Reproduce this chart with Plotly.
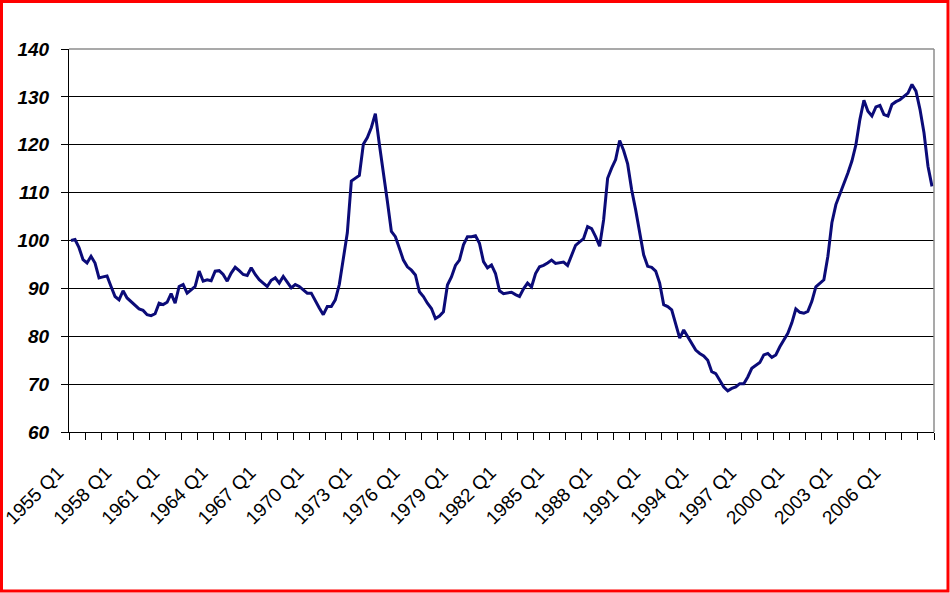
import plotly.graph_objects as go

# Quarterly categories 1955 Q1 .. 2008 Q4
years = list(range(1955, 2009))
quarters = [f"{y} Q{q}" for y in years for q in (1, 2, 3, 4)]

# Index values (one per quarter)
index_values = [
    100.0, 100.2, 98.5, 96.0, 95.3, 96.7, 95.3, 92.2, 92.4, 92.6,
    90.4, 88.3, 87.6, 89.5, 88.0, 87.3, 86.6, 85.7, 85.4, 84.5,
    84.3, 84.7, 86.9, 86.6, 87.1, 88.9, 86.9, 90.4, 90.8, 89.0,
    89.7, 90.4, 93.6, 91.5, 91.8, 91.6, 93.6, 93.7, 92.9, 91.5,
    93.2, 94.4, 93.7, 92.9, 92.7, 94.3, 92.9, 91.8, 91.1, 90.4,
    91.7, 92.2, 91.1, 92.5, 91.3, 90.1, 90.8, 90.4, 89.7, 89.0,
    89.0, 87.3, 85.9, 84.5, 86.2, 86.2, 87.6, 90.8, 96.7, 101.6,
    112.4, 113.1, 113.6, 120.1, 121.5, 123.6, 126.5, 120.1, 114.5, 108.2,
    101.9, 100.8, 98.4, 95.9, 94.5, 93.8, 92.8, 89.3, 88.3, 86.9,
    85.8, 83.7, 84.2, 85.1, 90.7, 92.4, 94.8, 95.9, 99.1, 100.8,
    100.8, 101.0, 99.4, 95.6, 94.3, 94.9, 93.1, 89.5, 88.9, 89.0,
    89.2, 88.7, 88.3, 89.9, 91.1, 90.3, 93.1, 94.5, 94.8, 95.3,
    95.9, 95.2, 95.3, 95.5, 94.8, 96.9, 99.0, 99.7, 100.4, 102.9,
    102.5, 100.8, 98.8, 104.3, 113.0, 115.1, 116.9, 120.9, 118.8, 116.0,
    110.6, 106.4, 101.8, 97.0, 94.6, 94.4, 93.6, 91.1, 86.6, 86.2,
    85.5, 82.7, 79.6, 81.3, 79.9, 78.2, 77.1, 76.4, 75.9, 75.0,
    72.6, 72.2, 70.8, 69.4, 68.6, 69.1, 69.4, 70.1, 70.1, 71.5,
    73.3, 74.0, 74.5, 76.1, 76.4, 75.6, 76.1, 77.8, 79.2, 80.6,
    82.8, 85.7, 85.0, 84.8, 85.2, 87.3, 90.3, 91.1, 91.8, 96.7,
    103.7, 107.5, 109.6, 111.7, 114.1, 116.6, 120.0, 125.3, 129.3, 127.0,
    126.0, 127.9, 128.2, 126.3, 126.0, 128.4, 129.0, 129.4, 130.1, 130.8,
    132.6, 131.2, 127.4, 122.5, 115.5, 111.3,
]

tick_labels = [f"{y} Q1" for y in range(1955, 2007, 3)]
y_ticks = [60, 70, 80, 90, 100, 110, 120, 130, 140]

x_pos = list(range(len(quarters)))
tick_pos = [quarters.index(t) for t in tick_labels]

fig = go.Figure()
fig.add_trace(go.Scatter(
    x=x_pos, y=index_values, mode="lines",
    line=dict(color="#0b0b78", width=3),
    customdata=quarters, hovertemplate="%{customdata}: %{y}<extra></extra>",
))

fig.update_layout(
    width=950, height=593,
    margin=dict(l=69, r=16, t=49, b=161, autoexpand=False),
    paper_bgcolor="white", plot_bgcolor="white",
    showlegend=False,
    font=dict(family="Liberation Sans, Arial, sans-serif", color="black"),
    xaxis=dict(
        range=[-0.5, len(quarters) - 0.5], automargin=False,
        tickmode="array", tickvals=tick_pos, ticktext=tick_labels,
        tickangle=-45, ticks="", showgrid=False, zeroline=False,
        showline=True, linecolor="black", linewidth=1,
        tickfont=dict(size=19, family="Liberation Sans, Arial, sans-serif", color="black"),
        ticklabelshift=-13, ticklabelstandoff=21, ticklabeloverflow="allow",
        minor=dict(tickmode="linear", tick0=-0.5, dtick=4, ticks="outside",
                   ticklen=7, tickcolor="black", tickwidth=1, showgrid=False),
    ),
    yaxis=dict(
        range=[60, 140], tickmode="array", tickvals=y_ticks, automargin=False,
        showgrid=True, gridcolor="black", gridwidth=1, zeroline=False,
        showline=True, linecolor="black", linewidth=1,
        ticks="outside", ticklen=7, tickcolor="black",
        ticklabelstandoff=8,
        tickfont=dict(size=19, family="Liberation Sans, Arial, sans-serif",
                      color="black", weight="bold", style="italic"),
    ),
    shapes=[
        dict(type="line", xref="paper", yref="paper", x0=0, x1=1, y0=1, y1=1,
             line=dict(color="#8c8c8c", width=1.5), layer="above"),
        dict(type="line", xref="paper", yref="paper", x0=1, x1=1, y0=0, y1=1,
             line=dict(color="#8c8c8c", width=1.5), layer="above"),
        dict(type="rect", xref="paper", yref="paper",
             x0=(1.5 - 69) / 865, x1=(948 - 69) / 865,
             y0=(432 - 591) / 383, y1=(432 - 1.5) / 383,
             line=dict(color="red", width=3), layer="above"),
    ],
)

fig.write_html("out.html")
